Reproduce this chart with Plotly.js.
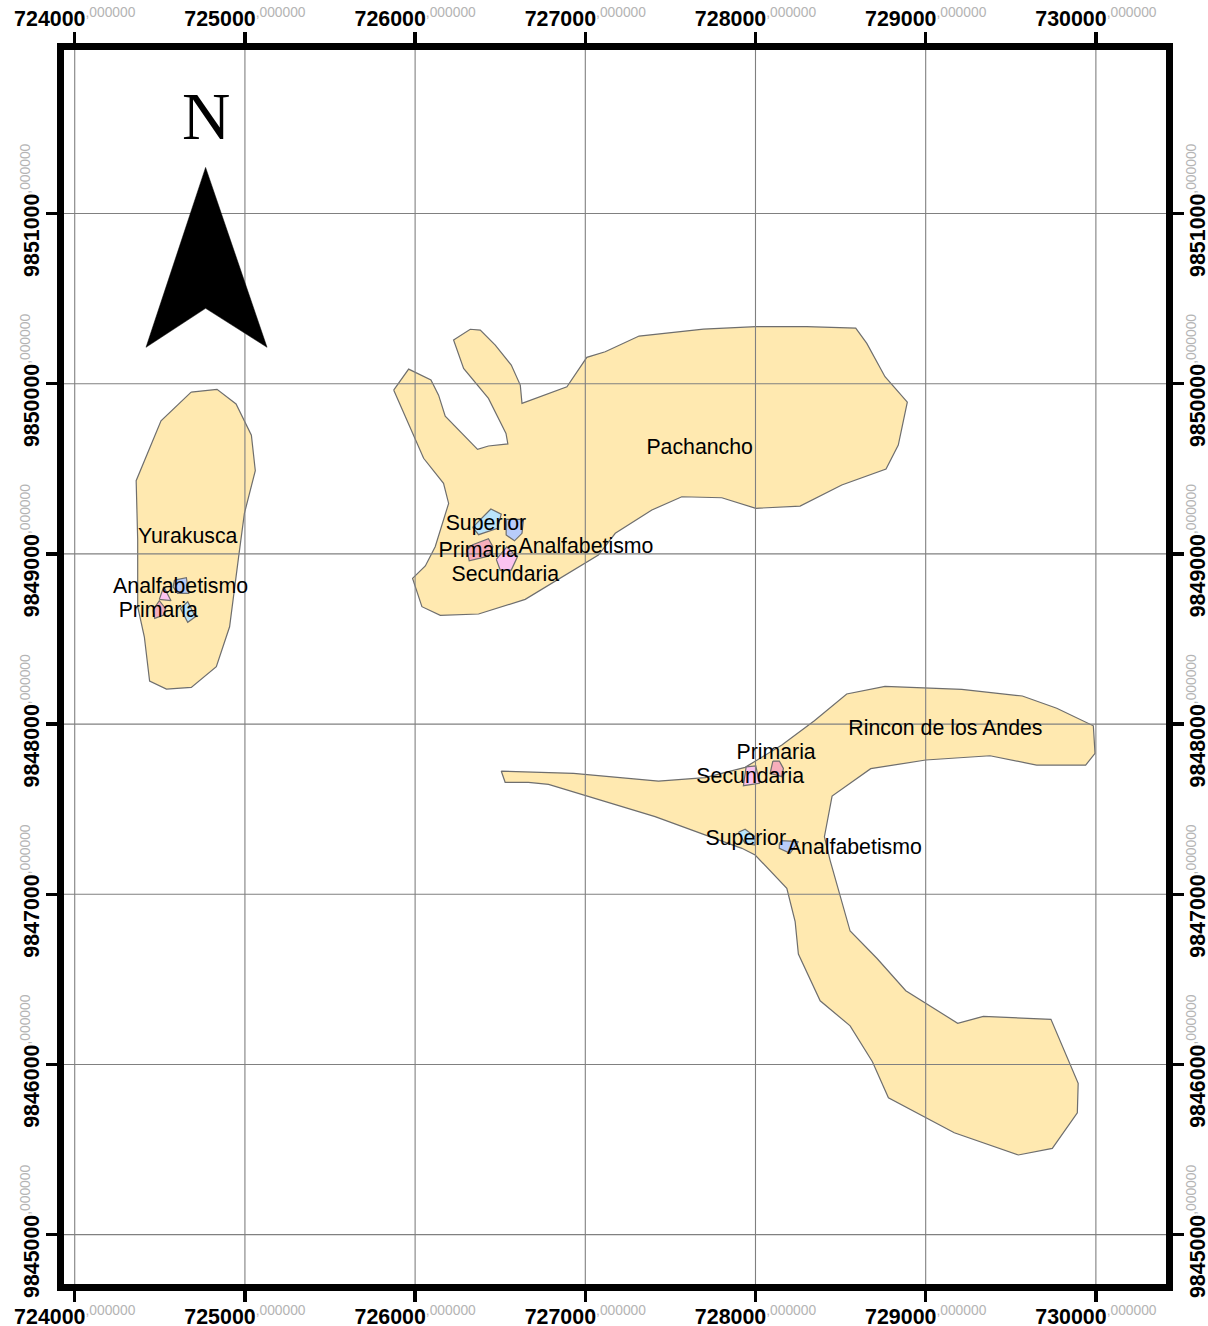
<!DOCTYPE html>
<html>
<head>
<meta charset="utf-8">
<script src="https://cdn.plot.ly/plotly-3.0.1.min.js"></script>
<style>html,body{margin:0;padding:0;background:#fff}#map{width:1208px;height:1326px}</style>
</head>
<body>
<div id="map"></div>
<script>
// Projected coordinates (metres)
const xTicks = [724000,725000,726000,727000,728000,729000,730000];
const yTicks = [9845000,9846000,9847000,9848000,9849000,9850000,9851000];
const tickSuffix = ",000000";

const yurakuscaX = [724684,724836,724948,725038,725061,724997,724963,724910,724832,724685,724539,724440,724409,724370,724370,724361,724507];
const yurakuscaY = [9849951,9849967,9849881,9849698,9849489,9849238,9848983,9848572,9848337,9848216,9848206,9848253,9848513,9848690,9849081,9849430,9849782];

const pachanchoX = [725874,725962,726093,726138,726177,726367,726431,726545,726534,726431,726285,726226,726324,726383,726471,726565,726618,726628,726892,727009,727117,727316,727694,728002,728301,728589,728654,728761,728892,728839,728767,728507,728262,728002,727802,727567,727391,727299,727176,727077,726999,726843,726647,726373,726148,726040,725985,726060,726118,726197,726167,726050];
const pachanchoY = [9849963,9850086,9850022,9849933,9849810,9849614,9849634,9849646,9849708,9849914,9850090,9850257,9850320,9850315,9850227,9850110,9849992,9849885,9849982,9850155,9850188,9850280,9850321,9850335,9850335,9850327,9850237,9850041,9849892,9849640,9849499,9849405,9849281,9849268,9849330,9849336,9849258,9849199,9849121,9848993,9848945,9848851,9848733,9848647,9848639,9848690,9848856,9848929,9849042,9849297,9849415,9849562];

const rinconX = [726506,726931,727430,727704,727939,728155,728346,728536,728761,729212,729568,729770,729985,729995,729940,729652,729378,729000,728677,728450,728405,728438,728556,728713,728883,729188,729339,729736,729896,729891,729744,729544,729168,728781,728687,728556,728380,728252,728233,728184,727998,727920,727410,726784,726666,726529];
const rinconY = [9847724,9847711,9847665,9847685,9847746,9847877,9848020,9848177,9848222,9848204,9848165,9848093,9847990,9847828,9847759,9847759,9847814,9847789,9847738,9847577,9847338,9847201,9846784,9846624,9846433,9846242,9846283,9846265,9845889,9845716,9845507,9845468,9845599,9845804,9846016,9846227,9846374,9846649,9846839,9847035,9847231,9847270,9847456,9847646,9847658,9847658];

// Education-level patches
const pSuperiorX = [726338,726445,726506,726484,726373];
const pSuperiorY = [9849156,9849264,9849234,9849150,9849113];
const pAnalfX = [726535,726637,726628,726584,726535];
const pAnalfY = [9849203,9849203,9849121,9849077,9849111];
const pPrimariaX = [726334,726431,726457,726430,726318,726305];
const pPrimariaY = [9849052,9849089,9849042,9848987,9848960,9849023];
const pSecundariaX = [726477,726539,726600,726565,726500];
const pSecundariaY = [9848968,9849042,9848980,9848905,9848905];

const yAnalfX = [724586,724656,724670,724605,724578];
const yAnalfY = [9848846,9848860,9848768,9848768,9848807];
const ySecundariaX = [724497,724523,724566];
const ySecundariaY = [9848733,9848807,9848725];
const yPrimariaX = [724460,724497,724533,724523,724470];
const yPrimariaY = [9848670,9848725,9848680,9848641,9848621];
const ySuperiorX = [724621,724664,724709,724664];
const ySuperiorY = [9848680,9848719,9848631,9848598];

const rSecundariaX = [727945,728002,728023,727929];
const rSecundariaY = [9847749,9847755,9847652,9847638];
const rPrimariaX = [728102,728140,728164,728155,728086];
const rPrimariaY = [9847783,9847783,9847740,9847691,9847711];
const rSuperiorX = [727900,727939,727998,727998,727939];
const rSuperiorY = [9847364,9847382,9847338,9847289,9847299];
const rAnalfX = [728140,728155,728252,728203,728140];
const rAnalfY = [9847299,9847315,9847309,9847241,9847270];

// North arrow
const arrowX = [724769,724419,724769,725130];
const arrowY = [9851271,9850214,9850443,9850214];
const northX = [724773];
const northY = [9851535];
const northText = ["N"];

// Labels
const labelText = ["Pachancho","Yurakusca","Analfabetismo","Primaria","Superior","Primaria","Analfabetismo","Secundaria","Rincon de los Andes","Primaria","Secundaria","Superior","Analfabetismo"];
const labelX = [727672,724664,724622,724491,726416,726371,727004,726530,729116,728121,727969,727943,728581];
const labelY = [9849616,9849093,9848799,9848658,9849169,9849011,9849034,9848870,9847965,9847824,9847683,9847318,9847266];

const LAND = "#FFE9B0", EDGE = "#6E6E6E", GRID = "#808080";
const C_SUP = "#BAE4FB", C_ANA = "#B8CCFA", C_PRI = "#F7AEBB", C_SEC = "#FBC3F0";

const xRange = [723937, 730412], yRange = [9844710, 9851961];

function poly(x, y, fill) {
  return {type:"scatter", mode:"lines", x:x.concat(x[0]), y:y.concat(y[0]), fill:"toself",
          fillcolor:fill, line:{color:EDGE, width:1.2}, hoverinfo:"skip", showlegend:false};
}
function gridTrace() {
  const gx = [], gy = [];
  xTicks.forEach(t => { gx.push(t,t,null); gy.push(yRange[0],yRange[1],null); });
  yTicks.forEach(t => { gx.push(xRange[0],xRange[1],null); gy.push(t,t,null); });
  return {type:"scatter", mode:"lines", x:gx, y:gy, line:{color:GRID, width:1.1}, hoverinfo:"skip", showlegend:false, connectgaps:false};
}
function tickLabels(vals) {
  return vals.map(v => "<b>"+v+"</b><sup><span style=\"color:#b4b4b4;font-size:13.8px\">"+tickSuffix+"</span></sup>");
}

const traces = [
  poly(yurakuscaX, yurakuscaY, LAND),
  poly(pachanchoX, pachanchoY, LAND),
  poly(rinconX, rinconY, LAND),
  poly(pSuperiorX, pSuperiorY, C_SUP), poly(pAnalfX, pAnalfY, C_ANA), poly(pPrimariaX, pPrimariaY, C_PRI), poly(pSecundariaX, pSecundariaY, C_SEC),
  poly(yAnalfX, yAnalfY, C_ANA), poly(ySecundariaX, ySecundariaY, C_SEC), poly(yPrimariaX, yPrimariaY, C_PRI), poly(ySuperiorX, ySuperiorY, C_SUP),
  poly(rSecundariaX, rSecundariaY, C_SEC), poly(rPrimariaX, rPrimariaY, C_PRI), poly(rSuperiorX, rSuperiorY, C_SUP), poly(rAnalfX, rAnalfY, C_ANA),
  gridTrace(),
  {type:"scatter", mode:"lines", x:arrowX.concat(arrowX[0]), y:arrowY.concat(arrowY[0]), fill:"toself", fillcolor:"#000", line:{color:"#000", width:0.5}, hoverinfo:"skip", showlegend:false},
  {type:"scatter", mode:"text", x:northX, y:northY, text:northText, textposition:"middle center", textfont:{family:"Liberation Serif", size:67, color:"#000"}, hoverinfo:"skip", showlegend:false},
  {type:"scatter", mode:"text", x:labelX, y:labelY, text:labelText, textposition:"middle center", textfont:{family:"Liberation Sans", size:21.3, color:"#000"}, hoverinfo:"skip", showlegend:false},
  {type:"scatter", mode:"markers", xaxis:"x2", yaxis:"y2", x:[xTicks[0]], y:[yTicks[0]], marker:{opacity:0, size:1}, hoverinfo:"skip", showlegend:false}
];

const common = {showgrid:false, zeroline:false, showline:true, linecolor:"#000", linewidth:7,
  ticks:"outside", ticklen:11, tickwidth:3.5, tickcolor:"#000", tickmode:"array",
  tickfont:{family:"Liberation Sans", size:21.4, color:"#000"}, automargin:false, fixedrange:true};

const layout = {
  width:1208, height:1326, paper_bgcolor:"#fff", plot_bgcolor:"#fff", showlegend:false,
  margin:{l:63.5, r:42, t:50, b:42, pad:0},
  hovermode:false,
  xaxis:Object.assign({}, common, {range:xRange, side:"bottom", tickvals:xTicks, ticktext:tickLabels(xTicks), tickangle:0, ticklabelstandoff:-4}),
  xaxis2:Object.assign({}, common, {range:xRange, side:"top", overlaying:"x", anchor:"y2", tickvals:xTicks, ticktext:tickLabels(xTicks), tickangle:0, ticklabelstandoff:-3}),
  yaxis:Object.assign({}, common, {range:yRange, side:"left", tickvals:yTicks, ticktext:tickLabels(yTicks), tickangle:-90, ticklabelstandoff:-2}),
  yaxis2:Object.assign({}, common, {range:yRange, side:"right", overlaying:"y", anchor:"x2", tickvals:yTicks, ticktext:tickLabels(yTicks), tickangle:-90, ticklabelstandoff:-5})
};
Plotly.newPlot("map", traces, layout, {staticPlot:true, displayModeBar:false});
</script>
</body>
</html>
